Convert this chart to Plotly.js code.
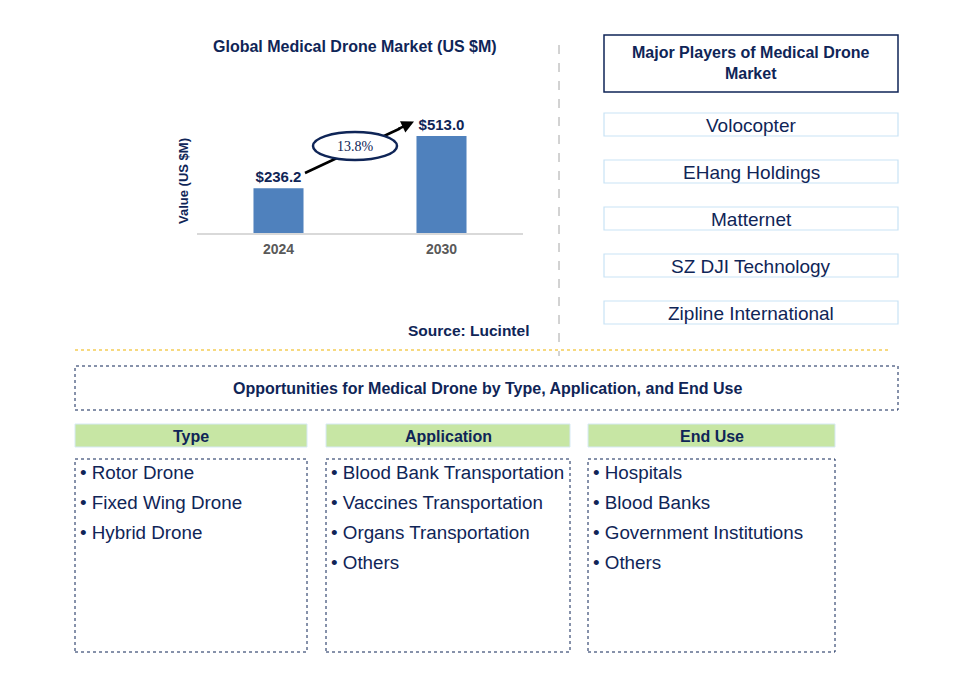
<!DOCTYPE html>
<html>
<head>
<meta charset="utf-8">
<script src="https://cdn.plot.ly/plotly-3.0.1.min.js"></script>
<style>html,body{margin:0;padding:0;background:#fff;}#chart{width:963px;height:693px;}</style>
</head>
<body>
<div id="chart"></div>
<script>
// ---- Data ----
const years = ["2024", "2030"];
const values = [236.2, 513.0];
const valueLabels = ["$236.2", "$513.0"];
const cagrLabel = "13.8%";
const chartTitle = "Global Medical Drone Market (US $M)";
const yTitle = "Value (US $M)";
const sourceText = "Source: Lucintel";
const playersTitle = "Major Players of Medical Drone<br>Market";
const players = ["Volocopter", "EHang Holdings", "Matternet", "SZ DJI Technology", "Zipline International"];
const oppTitle = "Opportunities for Medical Drone by Type, Application, and End Use";
const segHeaders = ["Type", "Application", "End Use"];
const types = ["Rotor Drone", "Fixed Wing Drone", "Hybrid Drone"];
const applications = ["Blood Bank Transportation", "Vaccines Transportation", "Organs Transportation", "Others"];
const endUses = ["Hospitals", "Blood Banks", "Government Institutions", "Others"];

// ---- Layout helpers ----
const W = 963, H = 693;
const px = x => x / W;
const py = y => 1 - y / H;
const NAVY = "#0F2557";
const FONT = "Liberation Sans, Arial, sans-serif";

const shapes = [];
const annotations = [];

function rect(x0, y0, x1, y1, color, width, dash, fill) {
  shapes.push({type: "rect", xref: "paper", yref: "paper",
    x0: px(x0), x1: px(x1), y0: py(y1), y1: py(y0),
    line: {color: color, width: width, dash: dash || "solid"},
    fillcolor: fill || "rgba(0,0,0,0)"});
}
function text(x, y, t, size, bold, opts) {
  annotations.push(Object.assign({xref: "paper", yref: "paper", x: px(x), y: py(y),
    text: bold ? "<b>" + t + "</b>" : t, showarrow: false,
    font: {family: FONT, size: size, color: NAVY},
    xanchor: "center", yanchor: "middle"}, opts || {}));
}

// Chart title, y title, source
text(355, 46, chartTitle, 16, true);
text(183, 181, yTitle, 13, true, {textangle: -90});
text(468, 330, sourceText, 15.5, true);

// CAGR arrow + ellipse
shapes.push({type: "line", xref: "paper", yref: "paper", x0: px(305), y0: py(173), x1: px(400), y1: py(128.5),
  line: {color: "#000", width: 2.5}});
shapes.push({type: "circle", xref: "paper", yref: "paper", x0: px(313), x1: px(397), y0: py(160), y1: py(132),
  line: {color: NAVY, width: 2.5}, fillcolor: "#fff"});
annotations.push({xref: "paper", yref: "paper", axref: "pixel", ayref: "pixel",
  x: px(414), y: py(121.5), ax: -17, ay: 8, text: "", showarrow: true,
  arrowhead: 2, arrowsize: 1, arrowwidth: 2.5, arrowcolor: "#000", standoff: 0, startstandoff: 0});
text(355, 146, cagrLabel, 14, false, {font: {family: "Liberation Serif, DejaVu Serif, serif", size: 14, color: NAVY}});

// Divider lines
shapes.push({type: "line", xref: "paper", yref: "paper", x0: px(559), x1: px(559), y0: py(45), y1: py(356),
  line: {color: "#A6A6A6", width: 1, dash: "dash"}});
shapes.push({type: "line", xref: "paper", yref: "paper", x0: px(75), x1: px(888), y0: py(350), y1: py(350),
  line: {color: "#F0B400", width: 1.2, dash: "dot"}});

// Players
rect(604, 35, 898, 92, NAVY, 1.5);
text(751, 63, playersTitle, 16, true);
const playerTops = [113, 160, 207, 254, 301];
players.forEach((p, i) => {
  rect(604, playerTops[i], 898, playerTops[i] + 23, "#C9E3F5", 1.2);
  text(751, playerTops[i] + 12, p, 19, false);
});

// Opportunities
rect(75, 366, 898, 410, NAVY, 1, "dot");
text(487, 388, oppTitle, 16, true);

const cols = [[75, 307], [326, 570], [588, 835]];
const lists = [types, applications, endUses];
cols.forEach((c, i) => {
  rect(c[0], 424, c[1], 447, "#D6E9F5", 1, "solid", "#C7E6A4");
  text((c[0] + c[1]) / 2, 436, segHeaders[i], 16, true);
  rect(c[0], 459, c[1], 652, NAVY, 1, "dot");
  lists[i].forEach((item, j) => {
    text(c[0] + 3, 472 + j * 30, "• " + item, 18.8, false, {xanchor: "left"});
  });
});

const yMax = 133 / (97 / 513);

const data = [{
  type: "bar", x: years, y: values, width: 0.307,
  marker: {color: "#4F81BD"}, hoverinfo: "none",
  text: valueLabels, textposition: "outside", cliponaxis: false,
  textfont: {family: FONT, size: 15, color: NAVY, weight: "bold"}
}];

const layout = {
  width: W, height: H, autosize: false,
  margin: {l: 0, r: 0, t: 0, b: 0},
  paper_bgcolor: "#fff", plot_bgcolor: "#fff",
  showlegend: false,
  xaxis: {domain: [px(197), px(523)], type: "category", range: [-0.5, 1.5],
    showline: true, linecolor: "#D9D9D9", linewidth: 1.5, ticks: "", showgrid: false, zeroline: false,
    ticklabelstandoff: 3,
    tickfont: {family: FONT, size: 14, color: "#595959", weight: "bold"}},
  yaxis: {domain: [py(233), py(100)], range: [0, yMax], showticklabels: false, showline: false,
    ticks: "", showgrid: false, zeroline: false},
  shapes: shapes,
  annotations: annotations
};

Plotly.newPlot("chart", data, layout, {displayModeBar: false, staticPlot: true});
</script>
</body>
</html>
